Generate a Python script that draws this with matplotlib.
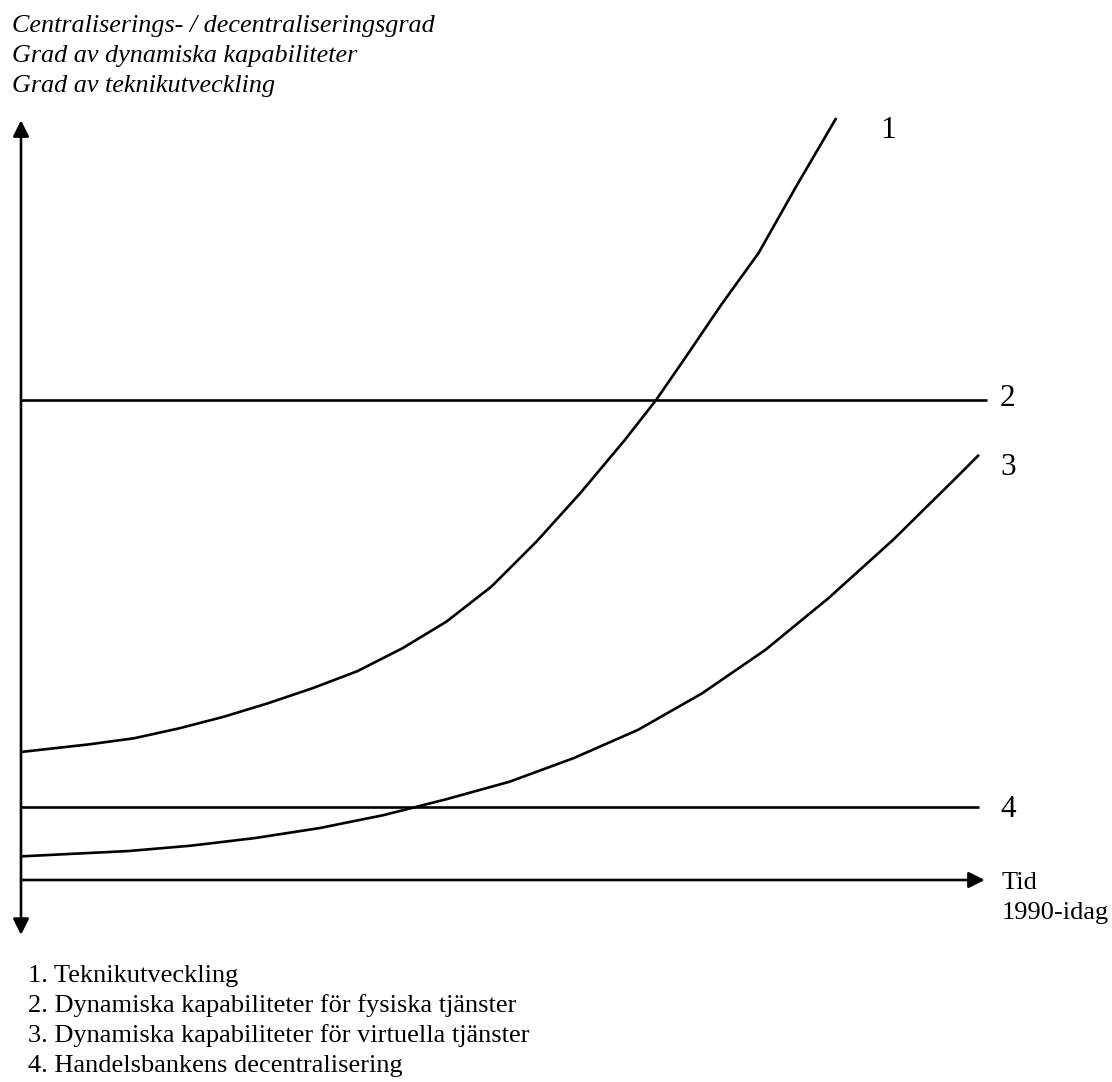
import matplotlib
matplotlib.use("Agg")
import matplotlib.pyplot as plt

W, H = 1112, 1082

# curve values (x: time 0-100, y: degree 0-100)
tek_x = [0, 7.1, 11.8, 16.5, 21.1, 25.8, 30.5, 35.1, 39.8, 44.4, 49.1,
         53.8, 58.4, 63.0, 66.3, 69.1, 73.1, 77.0, 81.0, 85.1]
tek_y = [16.8, 17.8, 18.6, 19.9, 21.4, 23.2, 25.2, 27.4, 30.4, 33.9, 38.5,
         44.4, 50.8, 57.7, 63.0, 68.1, 75.5, 82.3, 91.2, 100]

virt_x = [0, 11.2, 17.7, 24.4, 31.1, 37.8, 44.4, 51.0, 57.7, 64.4, 71.1,
          77.7, 84.3, 91.0, 97.7, 100]
virt_y = [3.1, 3.8, 4.5, 5.5, 6.8, 8.5, 10.6, 12.9, 16.0, 19.7, 24.5,
          30.2, 37.0, 44.6, 52.9, 55.8]

fys_x = [0, 100.8]
fys_y = [63.0, 63.0]

dec_x = [0, 100]
dec_y = [9.6, 9.6]

header = ["Centraliserings- / decentraliseringsgrad",
          "Grad av dynamiska kapabiliteter",
          "Grad av teknikutveckling"]
legend_items = ["1. Teknikutveckling",
                "2. Dynamiska kapabiliteter för fysiska tjänster",
                "3. Dynamiska kapabiliteter för virtuella tjänster",
                "4. Handelsbankens decentralisering"]
x_label = ["Tid", "1990-idag"]

serif = ["Liberation Serif", "DejaVu Serif"]

fig = plt.figure(figsize=(W / 100, H / 100), dpi=100)
# axes box placed in pixels: x 0..100 -> px 21..979, y 0..100 -> px 880..118
ax = fig.add_axes([21 / W, (H - 880) / H, 958 / W, 762 / H])
ax.set_xlim(0, 100)
ax.set_ylim(0, 100)
ax.axis("off")

lw = 1.9
for xs, ys in [(tek_x, tek_y), (virt_x, virt_y), (fys_x, fys_y), (dec_x, dec_y)]:
    ax.plot(xs, ys, color="black", lw=lw, clip_on=False,
            solid_capstyle="butt", solid_joinstyle="round")

# axes with arrows
arrow = dict(arrowstyle="<|-|>", color="black", lw=lw, mutation_scale=24,
             shrinkA=0, shrinkB=0)
ax.annotate("", xy=(0, 99.7), xytext=(0, -7.2), arrowprops=arrow,
            annotation_clip=False)
arrow_x = dict(arrow, arrowstyle="-|>")
ax.annotate("", xy=(100.6, 0), xytext=(0, 0), arrowprops=arrow_x,
            annotation_clip=False)


def px_text(x, y, s, **kw):
    fig.text(x / W, 1 - y / H, s, va="baseline", ha="left", family=serif, **kw)


for i, s in enumerate(header):
    px_text(12, 32 + 30 * i, s, fontsize=18.8, style="italic")

for s, (x, y) in zip(["1", "2", "3", "4"], [(880, 138), (1000, 406), (1000, 475), (1000, 817)]):
    px_text(x, y, s, fontsize=22.5)

px_text(1002, 889, x_label[0], fontsize=19)
px_text(1002, 919, x_label[1], fontsize=19)

for i, s in enumerate(legend_items):
    px_text(28, 982 + 30 * i, s, fontsize=19)

fig.savefig("out.png", dpi=100)
